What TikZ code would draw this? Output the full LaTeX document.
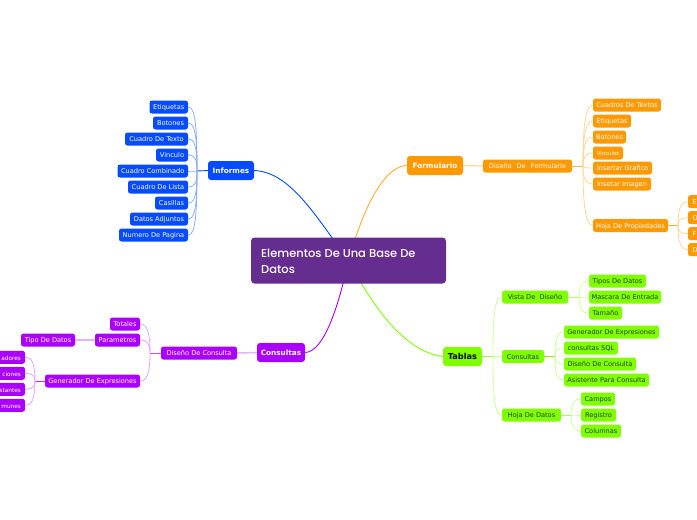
\documentclass[tikz,border=0pt]{standalone}
\usepackage{fontspec}
\setmainfont{DejaVu Sans}
\newfontfamily\rootfont{Poppins}[UprightFont=* Medium]
\usetikzlibrary{calc, backgrounds}
\definecolor{InfBlue}{RGB}{5, 75, 255}
\definecolor{ForOrange}{RGB}{255, 153, 0}
\definecolor{ConPurple}{RGB}{170, 0, 255}
\definecolor{TabGreen}{RGB}{128, 255, 0}
\definecolor{RootPurple}{RGB}{102, 45, 145}
\tikzset{
    box/.style={rounded corners=2.5pt, inner xsep=0pt, inner ysep=0pt, minimum height=13pt, text height=6.2pt, text depth=0.4pt, font=\fontsize{6.6}{7}\selectfont},
    infbox/.style={box, fill=InfBlue, text=white},
    forbox/.style={box, fill=ForOrange, text=white},
    conbox/.style={box, fill=ConPurple, text=white},
    tabbox/.style={box, fill=TabGreen, text=black!75!TabGreen},
    topbox/.style={minimum height=19pt, rounded corners=3pt, font=\fontsize{7.3}{8}\selectfont\bfseries},
    cutbox/.style={text width=37pt, minimum width=45pt, align=right, font=\fontsize{5.8}{7}\selectfont},
    edgebox/.style={text width=31pt, minimum width=40pt, align=left},
    trunk/.style={line width=0.9pt},
    twig/.style={line width=0.8pt}
}
\begin{document}
\begin{tikzpicture}[x=1pt, y=-1pt]
    \path[use as bounding box, clip] (0,0) rectangle (697,520);
    % centre
    \node[fill=RootPurple, rounded corners=3.5pt, minimum width=195pt, minimum height=46pt, inner sep=0pt] (root) at (348.5,260.5) {};
    \node[anchor=west, text=white, font=\fontsize{11.5}{16}\rootfont, align=left, inner sep=0pt] (rootText) at (261,261) {Elementos De Una Base De\\Datos};
    % informes
    \node[infbox, topbox, minimum width=46pt] (informes) at (231,170.5) {Informes};
    \node[infbox, minimum width=38.5pt] (infA) at (168.75,107) {Etiquetas};
    \node[infbox, minimum width=35pt] (infB) at (170.5,123) {Botones};
    \node[infbox, minimum width=63pt] (infC) at (156.5,139) {Cuadro De Texto};
    \node[infbox, minimum width=32pt] (infD) at (172,155) {Vinculo};
    \node[infbox, minimum width=70.5pt] (infE) at (152.75,171) {Cuadro Combinado};
    \node[infbox, minimum width=60pt] (infF) at (158,187) {Cuadro De Lista};
    \node[infbox, minimum width=33pt] (infG) at (171.5,203) {Casillas};
    \node[infbox, minimum width=58pt] (infH) at (159,219) {Datos Adjuntos};
    \node[infbox, minimum width=69pt] (infI) at (153.5,235) {Numero De Pagina};
    \coordinate (infHub) at (197,171);
    % formulario
    \node[forbox, topbox, minimum width=56pt] (formulario) at (435,165.5) {Formulario};
    \node[forbox, minimum width=89pt] (forMain) at (527.5,166) {Diseño\hspace{5pt}De\hspace{5pt}Formulario};
    \node[forbox, minimum width=68pt] (forA) at (627,105) {Cuadros De Textos};
    \node[forbox, minimum width=38pt] (forB) at (612,121) {Etiquetas};
    \node[forbox, minimum width=33pt] (forC) at (609.5,137) {Botones};
    \node[forbox, minimum width=30pt, font=\fontsize{5.4}{6}\selectfont] (forD) at (608,153) {Vinculos};
    \node[forbox, minimum width=59pt] (forE) at (622.5,168) {Insertar Grafico};
    \node[forbox, minimum width=58pt] (forF) at (622,184) {Insetar Imagen};
    \node[forbox, minimum width=75pt] (forG) at (630.5,225.5) {Hoja De Propiedades};
    \node[forbox, edgebox] (propA) at (708,201.7) {E};
    \node[forbox, edgebox] (propB) at (708,217.7) {O};
    \node[forbox, edgebox] (propC) at (708,233.7) {F};
    \node[forbox, edgebox] (propD) at (708,249.7) {D};
    \coordinate (forHub) at (583,166);
    \coordinate (propHub) at (678,225.5);
    % consultas
    \node[conbox, topbox, minimum width=48pt] (consultas) at (281,352.5) {Consultas};
    \node[conbox, minimum width=76pt] (conMain) at (199,353) {Diseño De Consulta};
    \node[conbox, minimum width=30pt] (conA) at (125,324) {Totales};
    \node[conbox, minimum width=45pt] (conB) at (117.5,340) {Parametros};
    \node[conbox, minimum width=54pt] (conTipo) at (48,340) {Tipo De Datos};
    \node[conbox, minimum width=95pt] (conC) at (92.5,381) {Generador De Expresiones};
    \node[conbox, cutbox] (genA) at (2.5,357.3) {adores};
    \node[conbox, cutbox] (genB) at (2.5,373.3) {ciones};
    \node[conbox, cutbox] (genC) at (2.5,389.3) {stantes};
    \node[conbox, cutbox] (genD) at (2.5,405.3) {munes};
    \coordinate (conHub) at (150,353);
    \coordinate (genHub) at (35,381);
    % tablas
    \node[tabbox, topbox, minimum width=39pt, text=black, font=\fontsize{8.2}{9}\selectfont\bfseries] (tablas) at (462.5,356.5) {Tablas};
    \node[tabbox, minimum width=66pt] (tabA) at (535,297) {Vista De ~Diseño};
    \node[tabbox, minimum width=42pt] (tabB) at (523,356.5) {Consultas};
    \node[tabbox, minimum width=59pt] (tabC) at (531.5,415) {Hoja De Datos};
    \node[tabbox, minimum width=57pt] (vistaA) at (617.5,281) {Tipos De Datos};
    \node[tabbox, minimum width=72pt] (vistaB) at (625,297) {Mascara De Entrada};
    \node[tabbox, minimum width=33pt] (vistaC) at (605.5,313) {Tamaño};
    \node[tabbox, minimum width=95pt] (queryA) at (611.5,332) {Generador De Expresiones};
    \node[tabbox, minimum width=54pt] (queryB) at (591,348) {consultas SQL};
    \node[tabbox, minimum width=72pt] (queryC) at (600,364) {Diseño De Consulta};
    \node[tabbox, minimum width=85pt] (queryD) at (606.5,380) {Asistente Para Consulta};
    \node[tabbox, minimum width=34pt] (hojaA) at (598,399) {Campos};
    \node[tabbox, minimum width=35pt] (hojaB) at (598.5,415) {Registro};
    \node[tabbox, minimum width=40pt] (hojaC) at (601,431) {Columnas};
    \coordinate (tabHub) at (493,356.5);
    \coordinate (vistaHub) at (579,297);
    \coordinate (queryHub) at (555,356.5);
    \coordinate (hojaHub) at (571,415);
    \begin{scope}[on background layer]
        % main branches
        \draw[InfBlue, trunk] (informes.east) .. controls (290,172) and (315,215) .. (root.center);
        \draw[ForOrange!80, trunk] (formulario.west) .. controls (385,166) and (364,205) .. (root.center);
        \draw[ConPurple, trunk] (consultas.east) .. controls (325,352) and (340,300) .. (root.center);
        \draw[TabGreen, trunk] (tablas.west) .. controls (410,352) and (380,320) .. (root.center);
        % stems
        \draw[InfBlue, trunk] (informes.west) -- (infHub);
        \draw[ForOrange!40, line width=1.2pt] (formulario.east) -- (forMain.west);
        \draw[ForOrange!70, trunk] (forMain.east) -- (forHub);
        \draw[ForOrange!80, trunk] (forG.east) -- (propHub);
        \draw[ConPurple!30, line width=1.5pt] (consultas.west) -- (conMain.east);
        \draw[ConPurple!70, trunk] (conMain.west) -- (conHub);
        \draw[ConPurple!30, line width=1.2pt] (conB.west) -- (conTipo.east);
        \draw[ConPurple!80, trunk] (conC.west) -- (genHub);
        \draw[TabGreen!80, trunk] (tablas.east) -- (tabHub);
        \draw[TabGreen!60, trunk] (tabA.east) -- (vistaHub);
        \draw[TabGreen, trunk] (tabB.east) -- (queryHub);
        \draw[TabGreen!70, trunk] (tabC.east) -- (hojaHub);
        % twigs to the left
        \foreach \kid in {infA,infB,infC,infD,infE,infF,infG,infH,infI}
            \draw[InfBlue!45, twig] (infHub) .. controls ($(infHub)!.7!(infHub|-\kid.east)$) and ($(\kid.east)+(7,0)$) .. (\kid.east);
        \foreach \kid in {conA,conB,conC}
            \draw[ConPurple!35, twig] (conHub) .. controls ($(conHub)!.7!(conHub|-\kid.east)$) and ($(\kid.east)+(7,0)$) .. (\kid.east);
        \foreach \kid in {genA,genB,genC,genD}
            \draw[ConPurple!35, twig] (genHub) .. controls ($(genHub)!.7!(genHub|-\kid.east)$) and ($(\kid.east)+(7,0)$) .. (\kid.east);
        % twigs to the right
        \foreach \kid in {forA,forB,forC,forD,forE,forF,forG}
            \draw[ForOrange!40, twig] (forHub) .. controls ($(forHub)!.7!(forHub|-\kid.west)$) and ($(\kid.west)+(-7,0)$) .. (\kid.west);
        \foreach \kid in {propA,propB,propC,propD}
            \draw[ForOrange!40, twig] (propHub) .. controls ($(propHub)!.7!(propHub|-\kid.west)$) and ($(\kid.west)+(-7,0)$) .. (\kid.west);
        \foreach \kid in {tabA,tabB,tabC}
            \draw[TabGreen!40, twig] (tabHub) .. controls ($(tabHub)!.7!(tabHub|-\kid.west)$) and ($(\kid.west)+(-7,0)$) .. (\kid.west);
        \foreach \kid in {vistaA,vistaB,vistaC}
            \draw[TabGreen!40, twig] (vistaHub) .. controls ($(vistaHub)!.7!(vistaHub|-\kid.west)$) and ($(\kid.west)+(-7,0)$) .. (\kid.west);
        \foreach \kid in {queryA,queryB,queryC,queryD}
            \draw[TabGreen!40, twig] (queryHub) .. controls ($(queryHub)!.7!(queryHub|-\kid.west)$) and ($(\kid.west)+(-7,0)$) .. (\kid.west);
        \foreach \kid in {hojaA,hojaB,hojaC}
            \draw[TabGreen!40, twig] (hojaHub) .. controls ($(hojaHub)!.7!(hojaHub|-\kid.west)$) and ($(\kid.west)+(-7,0)$) .. (\kid.west);
    \end{scope}
\end{tikzpicture}
\end{document}
